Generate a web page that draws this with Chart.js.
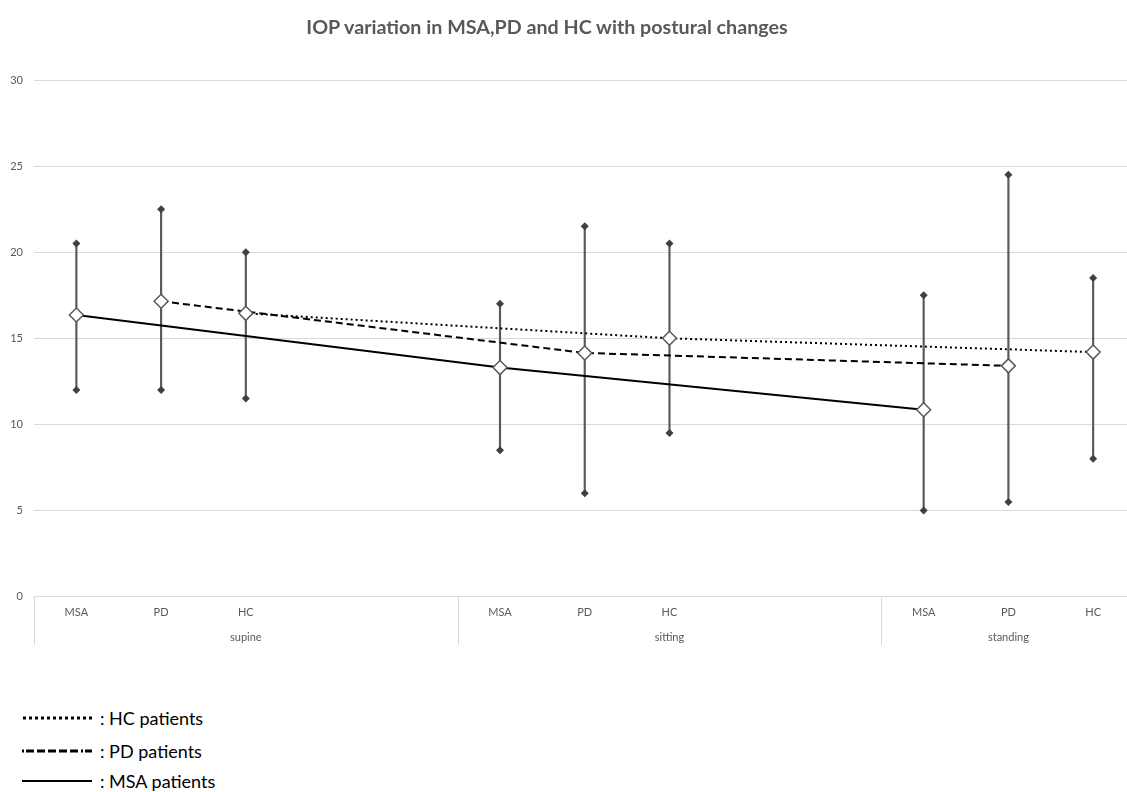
<!DOCTYPE html>
<html>
<head>
<meta charset="utf-8">
<script src="https://cdn.jsdelivr.net/npm/chart.js@4/dist/chart.umd.min.js"></script>
<style>
  body { margin: 0; background: #fff; overflow: hidden; font-family: Lato, "Open Sans", sans-serif; }
  #wrap { position: relative; width: 1144px; height: 792px; }
  #title { position: absolute; top: 15px; left: 0; width: 1094px; text-align: center;
           font-weight: bold; font-size: 19.7px; color: #595959; }
  #box { position: absolute; left: 0; top: 0; width: 1144px; height: 660px; }
  .leg { position: absolute; left: 22px; height: 24px; display: flex; align-items: center;
         font-size: 18px; color: #000; }
  .leg svg { width: 70px; height: 6px; margin-right: 8px; }
</style>
</head>
<body>
<div id="wrap">
  <div id="box"><canvas id="myChart"></canvas></div>
  <div id="title">IOP variation in MSA,PD and HC with postural changes</div>
  <div class="leg" style="top:706px">
    <svg><line x1="1" y1="3" x2="70" y2="3" stroke="#000" stroke-width="3" stroke-dasharray="3 3"/></svg>: HC patients
  </div>
  <div class="leg" style="top:739px">
    <svg><line x1="0" y1="3" x2="70" y2="3" stroke="#000" stroke-width="3" stroke-dasharray="2 2 8 3 8 3 8 3 8 3 8 3"/></svg>: PD patients
  </div>
  <div class="leg" style="top:769px">
    <svg><line x1="0" y1="3" x2="70" y2="3" stroke="#000" stroke-width="2"/></svg>: MSA patients
  </div>
</div>
<script>
// categories: 3 postures, 3 groups each, 2 empty slots between postures
var postures = ['supine', 'sitting', 'standing'];
var groups = ['MSA', 'PD', 'HC'];
var xLabels = ['MSA','PD','HC','','','MSA','PD','HC','','','MSA','PD','HC'];
var postureRow = ['','','supine','','','','','sitting','','','','standing',''];

// IOP means and range ends, per posture (supine, sitting, standing)
var msaMean = [16.35, 13.3, 10.85];
var pdMean  = [17.15, 14.15, 13.4];
var hcMean  = [16.45, 15.0, 14.2];
var msaHigh = [20.5, 17.0, 17.5];
var msaLow  = [12.0, 8.5, 5.0];
var pdHigh  = [22.5, 21.5, 24.5];
var pdLow   = [12.0, 6.0, 5.5];
var hcHigh  = [20.0, 20.5, 18.5];
var hcLow   = [11.5, 9.5, 8.0];

function slot(p, g) { return p * 5 + g; }

function spread(arr, g) {
  var out = xLabels.map(function(){ return null; });
  arr.forEach(function(v, p){ out[slot(p, g)] = v; });
  return out;
}

var highs = [msaHigh, pdHigh, hcHigh];
var lows = [msaLow, pdLow, hcLow];
var barData = xLabels.map(function(){ return null; });
var highData = xLabels.map(function(){ return null; });
var lowData = xLabels.map(function(){ return null; });
postures.forEach(function(p, pi){
  groups.forEach(function(g, gi){
    var i = slot(pi, gi);
    barData[i] = [lows[gi][pi], highs[gi][pi]];
    highData[i] = highs[gi][pi];
    lowData[i] = lows[gi][pi];
  });
});

function meanSet(label, arr, g, dash) {
  return {
    type: 'line', label: label, data: spread(arr, g),
    borderColor: '#000', borderWidth: 2, borderDash: dash,
    spanGaps: true, fill: false, order: 1,
    pointStyle: 'rectRot', pointRadius: 7, pointHoverRadius: 7,
    pointBackgroundColor: '#fff', pointBorderColor: '#595959', pointBorderWidth: 1.5
  };
}
function capSet(data) {
  return {
    type: 'line', data: data, showLine: false, order: 3,
    pointStyle: 'rectRot', pointRadius: 4, pointHoverRadius: 4,
    pointBackgroundColor: '#404040', pointBorderColor: '#404040', pointBorderWidth: 0
  };
}

// thin vertical dividers between postures below the axis
var dividers = {
  id: 'dividers',
  afterDraw: function(chart) {
    var x = chart.scales.x, x2 = chart.scales.x2, ctx = chart.ctx;
    var w = x.getPixelForTick(1) - x.getPixelForTick(0);
    ctx.save();
    ctx.strokeStyle = '#d9d9d9';
    ctx.lineWidth = 1;
    [0, 5, 10].forEach(function(i){
      var px = Math.round(x.getPixelForTick(i) - w / 2) + 0.5;
      ctx.beginPath();
      ctx.moveTo(px, chart.chartArea.bottom);
      ctx.lineTo(px, x2.bottom - 10);
      ctx.stroke();
    });
    ctx.restore();
  }
};

new Chart(document.getElementById('myChart'), {
  type: 'bar',
  data: {
    labels: xLabels,
    datasets: [
      meanSet('HC', hcMean, 2, [2, 3]),
      meanSet('PD', pdMean, 1, [7, 4]),
      meanSet('MSA', msaMean, 0, []),
      { type: 'bar', data: barData, backgroundColor: '#595959', barThickness: 1.5, order: 4 },
      capSet(highData),
      capSet(lowData)
    ]
  },
  plugins: [dividers],
  options: {
    responsive: true,
    maintainAspectRatio: false,
    animation: false,
    layout: { padding: { top: 80, right: 0, bottom: 5, left: 0 } },
    plugins: { legend: { display: false }, tooltip: { enabled: false } },
    scales: {
      x: {
        offset: true,
        grid: { display: false },
        border: { display: true, color: '#d9d9d9' },
        ticks: { autoSkip: false, maxRotation: 0, padding: 1, color: '#595959',
                 font: { family: 'Lato', size: 11 } }
      },
      x2: {
        type: 'category', labels: postureRow, position: 'bottom', offset: true,
        grid: { display: false, drawTicks: false, tickLength: 0 }, border: { display: false },
        ticks: { autoSkip: false, maxRotation: 0, padding: 11, color: '#595959',
                 font: { family: 'Lato', size: 11 } }
      },
      y: {
        min: 0, max: 30,
        afterFit: function(s){ s.width = 34; },
        grid: { color: '#d9d9d9', drawTicks: false },
        border: { display: false },
        ticks: { stepSize: 5, padding: 11, color: '#595959', font: { family: 'Lato', size: 11 } }
      }
    }
  }
});
</script>
</body>
</html>
